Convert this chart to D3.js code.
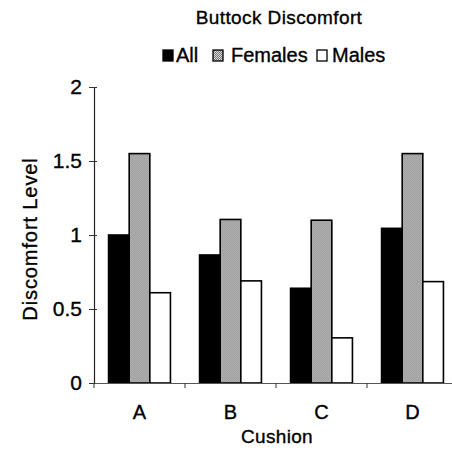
<!DOCTYPE html>
<html>
<head>
<meta charset="utf-8">
<script src="https://cdn.jsdelivr.net/npm/d3@7"></script>
<style>
  html, body { margin: 0; padding: 0; background: #fff; }
  svg { display: block; font-family: "Liberation Sans", Arial, sans-serif; }
  svg text { stroke: #000; stroke-width: 0.35px; }
</style>
</head>
<body>
<svg id="chart" width="452" height="457"></svg>
<script>
// Buttock discomfort ratings per cushion
const categories = ["A", "B", "C", "D"];
const seriesNames = ["All", "Females", "Males"];
const allValues = [1.0, 0.865, 0.64, 1.045];
const femaleValues = [1.55, 1.105, 1.1, 1.55];
const maleValues = [0.61, 0.69, 0.305, 0.685];
const yTicks = [0, 0.5, 1, 1.5, 2];
const yTickLabels = ["0", "0.5", "1", "1.5", "2"];

const seriesValues = [allValues, femaleValues, maleValues];
const rows = categories.map((c, i) => ({
  cat: c,
  vals: seriesNames.map((s, j) => ({ key: s, value: seriesValues[j][i] }))
}));

const svg = d3.select("#chart");

// checker pattern for the Females series
const defs = svg.append("defs");
const pat = defs.append("pattern")
  .attr("id", "dots").attr("width", 2).attr("height", 2)
  .attr("patternUnits", "userSpaceOnUse");
pat.append("rect").attr("width", 2).attr("height", 2).attr("fill", "#d8d8d8");
pat.append("rect").attr("width", 1).attr("height", 1).attr("fill", "#777");
pat.append("rect").attr("x", 1).attr("y", 1).attr("width", 1).attr("height", 1).attr("fill", "#777");

const fills = { All: "#000", Females: "url(#dots)", Males: "#fff" };

const plotLeft = 94, plotRight = 458, plotTop = 87, plotBottom = 383;

const x0 = d3.scaleBand().domain(categories).range([plotLeft, plotRight])
  .paddingInner(0.32).paddingOuter(0.16);
const x1 = d3.scaleBand().domain(seriesNames).range([0, x0.bandwidth()]);
const y = d3.scaleLinear().domain([0, 2]).range([plotBottom, plotTop]);

// bars
const groups = svg.append("g").selectAll("g").data(rows).join("g")
  .attr("transform", d => `translate(${x0(d.cat)},0)`);
groups.selectAll("rect").data(d => d.vals).join("rect")
  .attr("x", d => x1(d.key))
  .attr("y", d => y(d.value))
  .attr("width", x1.bandwidth())
  .attr("height", d => y(0) - y(d.value))
  .attr("fill", d => fills[d.key])
  .attr("stroke", "#000")
  .attr("stroke-width", 1.6);

// y axis
const yAxis = svg.append("g").attr("transform", `translate(${plotLeft},0)`)
  .call(d3.axisLeft(y).tickValues(yTicks).tickFormat((d, i) => yTickLabels[i])
    .tickSizeInner(5).tickSizeOuter(0).tickPadding(7));
yAxis.select(".domain").attr("stroke", "#222").attr("stroke-width", 1.2);
yAxis.selectAll(".tick line").attr("x2", -5).attr("x1", 3).attr("stroke", "#333");
yAxis.selectAll(".tick text").attr("font-size", 21).attr("fill", "#000")
  .attr("font-family", "Liberation Sans, Arial, sans-serif");

// x axis
const xAxis = svg.append("g").attr("transform", `translate(0,${plotBottom})`)
  .call(d3.axisBottom(x0).tickSize(0).tickPadding(22));
xAxis.select(".domain").attr("stroke", "#555").attr("stroke-width", 1.2);
xAxis.selectAll(".tick text").attr("font-size", 20).attr("fill", "#000")
  .attr("font-family", "Liberation Sans, Arial, sans-serif");

// category boundary ticks
const boundaries = categories.map(c => x0(c) - x0.step() * x0.paddingInner() / 2)
  .concat([x0(categories[3]) + x0.bandwidth() + x0.step() * x0.paddingInner() / 2]);
svg.append("g").selectAll("line").data(boundaries).join("line")
  .attr("x1", d => d).attr("x2", d => d)
  .attr("y1", plotBottom).attr("y2", plotBottom + 5)
  .attr("stroke", "#333").attr("stroke-width", 1);

// titles
svg.append("text").attr("x", 279).attr("y", 24).attr("text-anchor", "middle")
  .attr("font-size", 19).attr("letter-spacing", 0.4).text("Buttock Discomfort");
svg.append("text").attr("x", 277).attr("y", 443).attr("text-anchor", "middle")
  .attr("font-size", 19).attr("letter-spacing", 0.3).text("Cushion");
svg.append("text")
  .attr("transform", `translate(37,${(plotTop + plotBottom) / 2 + 4}) rotate(-90)`)
  .attr("text-anchor", "middle").attr("font-size", 20).attr("letter-spacing", 0.9)
  .text("Discomfort Level");

// legend
const legendX = [163, 213, 317];
const legend = svg.append("g").selectAll("g").data(seriesNames).join("g")
  .attr("transform", (d, i) => `translate(${legendX[i]},50)`);
legend.append("rect").attr("width", 10).attr("height", 11)
  .attr("fill", d => fills[d]).attr("stroke", "#000").attr("stroke-width", 1.3);
legend.append("text").attr("x", (d, i) => [13, 18, 15][i]).attr("y", 11.5)
  .attr("font-size", 20).text(d => d);
</script>
</body>
</html>
